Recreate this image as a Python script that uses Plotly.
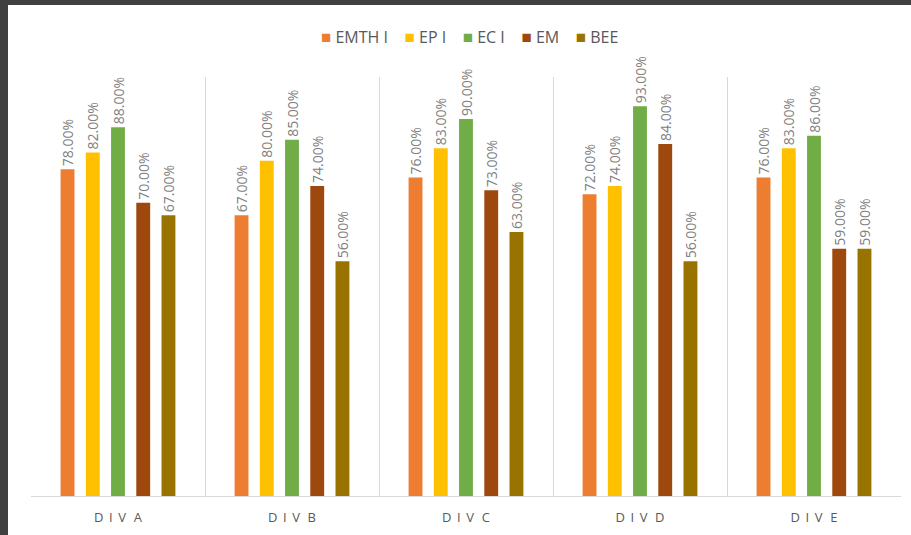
import plotly.graph_objects as go

divisions = ["DIV A", "DIV B", "DIV C", "DIV D", "DIV E"]
tick_labels = ["D\u2009 I\u2009 V\u2009\u00a0\u2009A", "D\u2009 I\u2009 V\u2009\u00a0\u2009B",
               "D\u2009 I\u2009 V\u2009\u00a0\u2009C", "D\u2009 I\u2009 V\u2009\u00a0\u2009D",
               "D\u2009 I\u2009 V\u2009\u00a0\u2009E"]

subjects = ["EMTH I", "EP I", "EC I", "EM", "BEE"]
emth_i = [0.78, 0.67, 0.76, 0.72, 0.76]
ep_i = [0.82, 0.80, 0.83, 0.74, 0.83]
ec_i = [0.88, 0.85, 0.90, 0.93, 0.86]
em = [0.70, 0.74, 0.73, 0.84, 0.59]
bee = [0.67, 0.56, 0.63, 0.56, 0.59]

series = [emth_i, ep_i, ec_i, em, bee]
bar_colors = ["#ED7D31", "#FFC000", "#70AD47", "#9E480E", "#997300"]

W, H = 911, 535
ML, MR, MT, MB = 31, 10, 77, 39
PW, PH = W - ML - MR, H - MT - MB

fig = go.Figure()
for name, vals, col in zip(subjects, series, bar_colors):
    fig.add_trace(go.Bar(
        x=divisions,
        y=vals,
        name=name,
        marker=dict(color=col, line=dict(width=0)),
        texttemplate='%{y:.2%}',
        textposition='outside',
        textangle=-90,
        constraintext='none',
        cliponaxis=False,
        textfont=dict(size=14, color='#808080'),
        hovertemplate='%{x}<br>' + name + ': %{y:.2%}<extra></extra>'
    ))

# dark frame around the white chart card
fig.add_shape(
    type='rect', layer='below', xref='paper', yref='paper',
    x0=(8 - ML) / PW, x1=(W + 5 - ML) / PW,
    y0=-(MB + 5) / PH, y1=(H - 5 - MB) / PH,
    fillcolor='white', line=dict(width=0)
)

# compact Excel-style legend (square marker close to its label)
legend_text = '\u00a0\u00a0\u00a0\u00a0'.join(
    f'<span style="color:{c};font-size:17px">\u25a0</span>\u00a0{n}'
    for n, c in zip(subjects, bar_colors)
)
fig.add_annotation(
    text=legend_text, xref='paper', yref='paper',
    x=(469 - ML) / PW, xanchor='center',
    y=(H - MB - 36) / PH, yanchor='middle',
    showarrow=False,
    font=dict(size=16, color='#595959')
)

fig.update_layout(
    width=W,
    height=H,
    barmode='group',
    bargap=0.275,
    bargroupgap=0.45,
    paper_bgcolor='#404040',
    plot_bgcolor='white',
    font=dict(family='Open Sans, sans-serif', size=12, color='#595959'),
    margin=dict(l=ML, r=MR, t=MT, b=MB, pad=0),
    showlegend=False,
    xaxis=dict(
        type='category',
        tickmode='array',
        tickvals=divisions,
        ticktext=tick_labels,
        tickson='boundaries',
        ticks='',
        showgrid=True,
        gridcolor='#D9D9D9',
        gridwidth=1,
        showline=True,
        linecolor='#D9D9D9',
        linewidth=1,
        tickfont=dict(size=13, color='#595959'),
        ticklabelstandoff=9,
        zeroline=False
    ),
    yaxis=dict(
        range=[0, 1],
        showgrid=False,
        showticklabels=False,
        zeroline=False,
        showline=False
    )
)

fig.write_html(
    "out.html",
    config={'displayModeBar': False},
    post_script="document.body.style.margin='0';document.body.style.overflow='hidden';"
)
